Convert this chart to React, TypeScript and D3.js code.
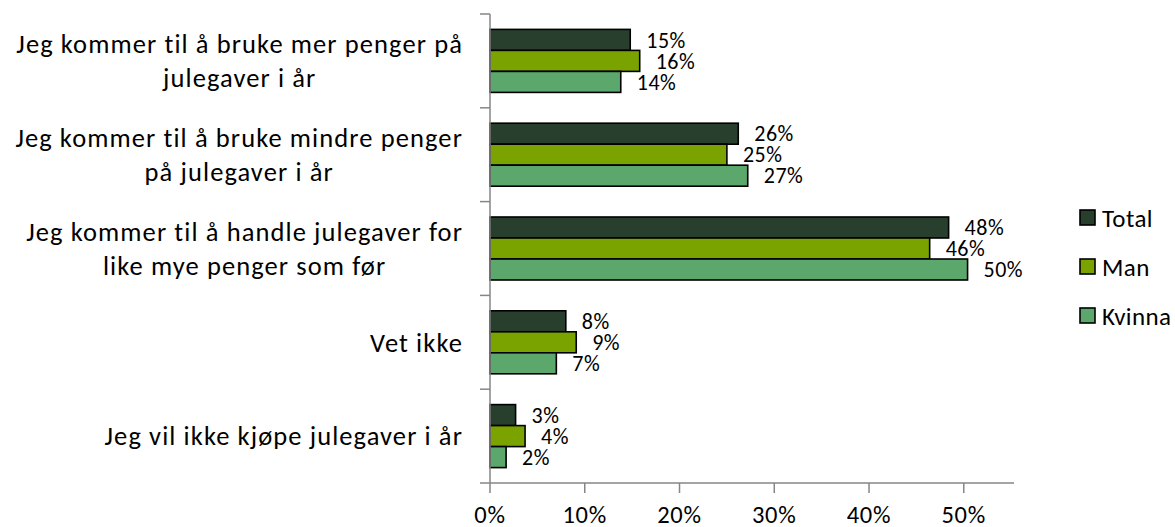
import React, { useEffect, useRef } from "react";
import * as d3 from "d3";

const categoryLines: string[][] = [
  ["Jeg kommer til å bruke mer penger på", "julegaver i år"],
  ["Jeg kommer til å bruke mindre penger", "på julegaver i år"],
  ["Jeg kommer til å handle julegaver for", "like mye penger som før"],
  ["Vet ikke"],
  ["Jeg vil ikke kjøpe julegaver i år"],
];
const seriesNames = ["Total", "Man", "Kvinna"];
const totalValues = [14.8, 26.2, 48.4, 8.0, 2.7];
const manValues = [15.8, 25.0, 46.4, 9.1, 3.7];
const kvinnaValues = [13.8, 27.2, 50.4, 7.0, 1.7];
const xTicks = [0, 10, 20, 30, 40, 50];

const seriesColors = ["#283F2E", "#7AA300", "#5BA76C"];
const FONT = "Carlito, Calibri, Lato, sans-serif";

export default function App() {
  const ref = useRef<SVGSVGElement>(null);

  useEffect(() => {
    const svg = d3.select(ref.current);
    svg.selectAll("*").remove();

    const x = d3.scaleLinear().domain([0, 55.3]).range([490, 1014]);
    const y = d3
      .scaleBand<number>()
      .domain(categoryLines.map((_, i) => i))
      .range([14, 483])
      .padding(0);
    const step = y.step();
    const groupPad = 15.4;
    const ySub = d3
      .scaleBand<string>()
      .domain(seriesNames)
      .range([groupPad, step - groupPad])
      .padding(0);

    const allValues = [totalValues, manValues, kvinnaValues];
    const fmt = (v: number) => d3.format(".0f")(v) + "%";

    seriesNames.forEach((s, si) => {
      const vals = allValues[si];
      const g = svg.append("g");
      g.selectAll("rect")
        .data(vals)
        .join("rect")
        .attr("x", x(0))
        .attr("y", (_, i) => (y(i) as number) + (ySub(s) as number))
        .attr("width", (d) => x(d) - x(0))
        .attr("height", ySub.bandwidth())
        .attr("fill", seriesColors[si])
        .attr("stroke", "#000")
        .attr("stroke-width", 1.6);
      g.selectAll("text")
        .data(vals)
        .join("text")
        .attr("x", (d) => x(d) + 16)
        .attr("y", (_, i) => (y(i) as number) + (ySub(s) as number) + ySub.bandwidth() / 2)
        .attr("dy", "0.35em")
        .attr("font-family", FONT)
        .attr("font-size", 22)
        .attr("letter-spacing", 0.5)
        .attr("fill", "#000")
        .text((d) => fmt(d));
    });

    const axisColor = "#868686";
    svg.append("line")
      .attr("x1", x(0)).attr("x2", x(0))
      .attr("y1", 14).attr("y2", 483)
      .attr("stroke", axisColor).attr("stroke-width", 1.5);
    svg.append("line")
      .attr("x1", x(0)).attr("x2", x(55.3))
      .attr("y1", 483).attr("y2", 483)
      .attr("stroke", axisColor).attr("stroke-width", 1.5);
    const catBounds = categoryLines.map((_, i) => y(i) as number).concat([483]);
    svg.selectAll(".ctick")
      .data(catBounds)
      .join("line")
      .attr("x1", x(0) - 10).attr("x2", x(0))
      .attr("y1", (d) => d).attr("y2", (d) => d)
      .attr("stroke", axisColor).attr("stroke-width", 1.5);
    svg.selectAll(".xtick")
      .data(xTicks)
      .join("line")
      .attr("x1", (d) => x(d)).attr("x2", (d) => x(d))
      .attr("y1", 483).attr("y2", 493)
      .attr("stroke", axisColor).attr("stroke-width", 1.5);
    svg.selectAll(".xlabel")
      .data(xTicks)
      .join("text")
      .attr("x", (d) => x(d))
      .attr("y", 514)
      .attr("dy", "0.35em")
      .attr("text-anchor", "middle")
      .attr("font-family", FONT)
      .attr("font-size", 24.5)
      .attr("letter-spacing", 0.8)
      .attr("fill", "#000")
      .text((d) => d + "%");

    const lineH = 34;
    const rightEdge = 463;
    categoryLines.forEach((lines, i) => {
      const cy = (y(i) as number) + step / 2;
      const g = svg.append("g");
      const texts = lines.map((ln, li) =>
        g.append("text")
          .attr("y", cy + (li - (lines.length - 1) / 2) * lineH)
          .attr("dy", "0.35em")
          .attr("font-family", FONT)
          .attr("font-size", 26.5)
          .attr("letter-spacing", 1.1)
          .attr("fill", "#000")
          .attr("text-anchor", "middle")
          .text(ln)
      );
      const widths = texts.map((t) => (t.node() as SVGTextElement).getComputedTextLength());
      const maxW = Math.max(...widths);
      texts.forEach((t) => t.attr("x", rightEdge - maxW / 2));
    });

    const legendY = [218, 267, 316];
    seriesNames.forEach((s, si) => {
      svg.append("rect")
        .attr("x", 1080).attr("y", legendY[si] - 8)
        .attr("width", 15).attr("height", 15)
        .attr("fill", seriesColors[si])
        .attr("stroke", "#000").attr("stroke-width", 1.6);
      svg.append("text")
        .attr("x", 1102).attr("y", legendY[si])
        .attr("dy", "0.35em")
        .attr("font-family", FONT)
        .attr("font-size", 25)
        .attr("letter-spacing", 0.4)
        .attr("fill", "#000")
        .text(s);
    });
  }, []);

  return (
    <svg
      ref={ref}
      width={1175}
      height={527}
      style={{ position: "absolute", left: 0, top: 0, display: "block", background: "#fff" }}
    />
  );
}
